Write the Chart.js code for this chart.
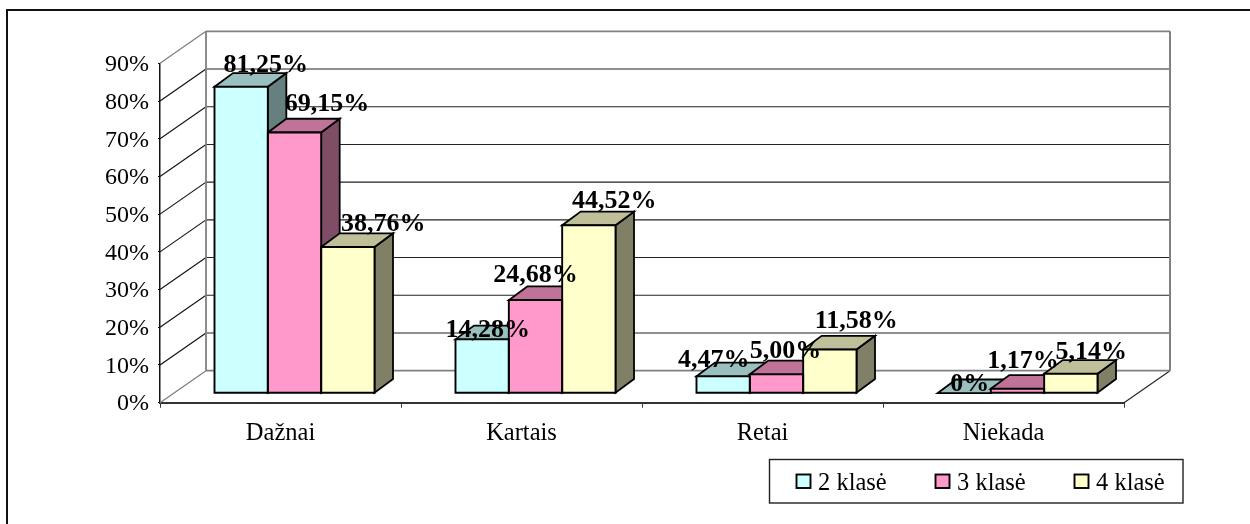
<!DOCTYPE html>
<html>
<head>
<meta charset="utf-8">
<style>html,body{margin:0;padding:0;background:#fff}canvas{display:block}</style>
<script src="https://cdn.jsdelivr.net/npm/chart.js@4"></script>
</head>
<body>
<div style="width:1250px;height:524px"><canvas id="c" width="1250" height="524"></canvas></div>
<script>
const categories = ['Dažnai', 'Kartais', 'Retai', 'Niekada'];
const seriesNames = ['2 klasė', '3 klasė', '4 klasė'];
const klase2 = [81.25, 14.28, 4.47, 0];
const klase3 = [69.15, 24.68, 5.00, 1.17];
const klase4 = [38.76, 44.52, 11.58, 5.14];
const tickValues = [0, 10, 20, 30, 40, 50, 60, 70, 80, 90];

const faceColors = ['#CCFFFF', '#FF99CC', '#FFFFCC'];
const topColors = ['#99BFBF', '#BF7399', '#BFBF99'];
const sideColors = ['#668080', '#804D66', '#808066'];

// hand-placed label nudges (dx, dy of the baseline from the bar's front top centre)
const labelNudges = [
  [[25, -15], [6, -2], [-9, -9], [6, -2]],
  [[33, -21], [0.5, -18], [9.5, -16], [6, -20.6]],
  [[36, -16], [26, -17], [27, -22], [21, -15]]
];

const SERIF = '"Liberation Serif", "Times New Roman", serif';
const WALL = { dx: 46, dy: -32 };
const FRONT = { dx: 14, dy: -9.5 };
const DEPTH = { dx: 18.5, dy: -13.7 };

function poly(ctx, pts, fill, stroke, lw) {
  ctx.beginPath();
  pts.forEach((p, i) => i ? ctx.lineTo(p[0], p[1]) : ctx.moveTo(p[0], p[1]));
  ctx.closePath();
  if (fill) { ctx.fillStyle = fill; ctx.fill(); }
  if (stroke) { ctx.strokeStyle = stroke; ctx.lineWidth = lw; ctx.lineJoin = 'miter'; ctx.stroke(); }
}
function seg(ctx, x0, y0, x1, y1, color, lw) {
  ctx.beginPath(); ctx.moveTo(x0, y0); ctx.lineTo(x1, y1);
  ctx.strokeStyle = color; ctx.lineWidth = lw; ctx.stroke();
}

const scene3d = {
  id: 'scene3d',
  beforeDraw(chart) {
    const ctx = chart.ctx;
    ctx.save();
    ctx.fillStyle = '#fff'; ctx.fillRect(0, 0, chart.width, chart.height);
    ctx.strokeStyle = '#111'; ctx.lineWidth = 2;
    ctx.beginPath(); ctx.moveTo(7, 526); ctx.lineTo(7, 10); ctx.lineTo(1252, 10); ctx.stroke();
    ctx.restore();
  },
  beforeDatasetsDraw(chart) {
    const ctx = chart.ctx, y = chart.scales.y, a = chart.chartArea;
    const bx0 = a.left + WALL.dx, bx1 = a.right + WALL.dx;
    ctx.save();
    tickValues.forEach(v => {
      if (v === 0 || v === 90) return;
      const py = y.getPixelForValue(v);
      seg(ctx, a.left, py, bx0, py + WALL.dy, '#111', 1.1);
      seg(ctx, bx0, py + WALL.dy, bx1, py + WALL.dy, '#222', 1.1);
    });
    const t = y.getPixelForValue(90), b = y.getPixelForValue(0);
    const gray = '#808080';
    seg(ctx, a.left, t, bx0, t + WALL.dy, gray, 1.3);
    seg(ctx, a.left, b, bx0, b + WALL.dy, gray, 1.3);
    seg(ctx, a.right, b, bx1, b + WALL.dy, '#222', 1.1);
    seg(ctx, bx0, t + WALL.dy, bx1, t + WALL.dy, gray, 1.8);
    seg(ctx, bx0, b + WALL.dy, bx1, b + WALL.dy, gray, 1.8);
    seg(ctx, bx0, t + WALL.dy, bx0, b + WALL.dy, gray, 1.8);
    seg(ctx, bx1, t + WALL.dy, bx1, b + WALL.dy, gray, 2);
    // depth faces, left to right; the library paints the front faces over them
    ctx.translate(FRONT.dx, FRONT.dy);
    const dx = DEPTH.dx, dy = DEPTH.dy;
    categories.forEach((_, j) => {
      chart.data.datasets.forEach((ds, i) => {
        const el = chart.getDatasetMeta(i).data[j];
        const l = el.x - el.width / 2, r = el.x + el.width / 2, tp = el.y, bs = el.base;
        if (bs - tp > 0.01) {
          poly(ctx, [[r, tp], [r + dx, tp + dy], [r + dx, bs + dy], [r, bs]], sideColors[i], '#000', 1.8);
        }
        poly(ctx, [[l, tp], [l + dx, tp + dy], [r + dx, tp + dy], [r, tp]], topColors[i], '#000', 1.8);
      });
    });
    ctx.restore();
  },
  beforeDatasetDraw(chart) {
    chart.ctx.save();
    chart.ctx.translate(FRONT.dx, FRONT.dy);
  },
  afterDatasetDraw(chart) {
    chart.ctx.restore();
  },
  afterDatasetsDraw(chart) {
    const ctx = chart.ctx;
    ctx.save();
    chart.data.datasets.forEach((ds, i) => {
      chart.getDatasetMeta(i).data.forEach(el => {
        const l = el.x - el.width / 2 + FRONT.dx, r = el.x + el.width / 2 + FRONT.dx;
        const t = el.y + FRONT.dy, b = el.base + FRONT.dy;
        if (b - t > 0.01) poly(ctx, [[l, t], [r, t], [r, b], [l, b]], null, '#000', 1.9);
      });
    });
    ctx.fillStyle = '#000';
    ctx.font = 'bold 26px ' + SERIF;
    ctx.textAlign = 'center';
    ctx.textBaseline = 'alphabetic';
    chart.data.datasets.forEach((ds, i) => {
      chart.getDatasetMeta(i).data.forEach((el, j) => {
        const v = ds.data[j];
        const txt = v === 0 ? '0%' : v.toFixed(2).replace('.', ',') + '%';
        const n = labelNudges[i][j];
        ctx.fillText(txt, el.x + 13.5 + n[0], el.y + FRONT.dy + n[1]);
      });
    });
    ctx.restore();
  },
  afterDraw(chart) {
    // legend frame and entries
    const ctx = chart.ctx;
    ctx.save();
    ctx.strokeStyle = '#222'; ctx.lineWidth = 1.4;
    ctx.strokeRect(769.5, 459.5, 413.5, 43.5);
    ctx.font = '24.5px ' + SERIF;
    ctx.textBaseline = 'alphabetic'; ctx.textAlign = 'left';
    chart.data.datasets.forEach((ds, i) => {
      const x = 796.5 + i * 139;
      ctx.fillStyle = ds.backgroundColor;
      ctx.fillRect(x, 474.5, 14, 13.5);
      ctx.strokeStyle = '#000'; ctx.lineWidth = 1.9;
      ctx.strokeRect(x, 474.5, 14, 13.5);
      ctx.fillStyle = '#000';
      ctx.fillText(ds.label, x + 21.5, 490);
    });
    ctx.restore();
  }
};

new Chart(document.getElementById('c'), {
  type: 'bar',
  data: {
    labels: categories,
    datasets: [
      { label: seriesNames[0], data: klase2, backgroundColor: faceColors[0] },
      { label: seriesNames[1], data: klase3, backgroundColor: faceColors[1] },
      { label: seriesNames[2], data: klase4, backgroundColor: faceColors[2] }
    ]
  },
  plugins: [scene3d],
  options: {
    responsive: false,
    animation: false,
    devicePixelRatio: 1,
    layout: { padding: { left: 100, top: 63.3, right: 126, bottom: 61.3 } },
    datasets: { bar: { categoryPercentage: 0.664, barPercentage: 1, borderWidth: 0 } },
    plugins: { legend: { display: false }, tooltip: { enabled: false }, title: { display: false } },
    scales: {
      x: {
        afterFit(s) { s.height = 60; },
        grid: { drawOnChartArea: false, tickLength: 5, tickColor: '#333', tickWidth: 1 },
        border: { color: '#333', width: 2 },
        ticks: { color: '#000', padding: 11, maxRotation: 0, font: { family: SERIF, size: 24.5 } }
      },
      y: {
        min: 0, max: 90,
        afterFit(s) { s.width = 60; },
        afterBuildTicks(s) { s.ticks = tickValues.map(v => ({ value: v })); },
        grid: { drawOnChartArea: false, tickLength: 2, tickColor: '#111', tickWidth: 1 },
        border: { color: '#111', width: 1.5 },
        ticks: { color: '#000', padding: 9, labelOffset: 1.5, callback: v => v + '%', font: { family: SERIF, size: 24 } }
      }
    }
  }
});
</script>
</body>
</html>
